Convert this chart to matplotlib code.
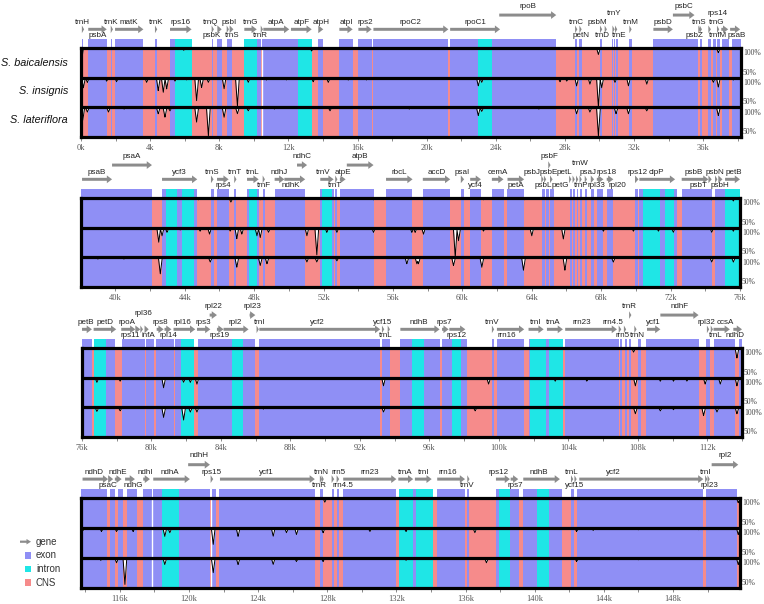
import numpy as np
import matplotlib
matplotlib.use("Agg")
import matplotlib.pyplot as plt
from matplotlib.patches import FancyArrow, Rectangle
from matplotlib.transforms import blended_transform_factory

EXON_C = "#8f8ff5"
INTRON_C = "#1fe6e6"
CNS_C = "#f68b8b"
GENE_C = "#8c8c8c"

SPECIES = ["S. baicalensis", "S. insignis", "S. lateriflora"]
PANEL_RANGES = [(0.0, 38.19), (38.02, 76.0), (76.0, 114.0), (113.75, 151.88)]
LEGEND_LABELS = ["gene", "exon", "intron", "CNS"]

# genes: (name, start kb, end kb, arrow level, label position, label x)
GENES_1 = [
    ("trnH", 0.05, 0.12, 0, "a", None), ("psbA", 0.42, 1.49, 0, "b", None),
    ("trnK", 1.72, 1.80, 0, "a", None), ("matK", 1.97, 3.61, 0, "a", None),
    ("trnK", 4.28, 4.38, 0, "a", None), ("rps16", 5.15, 6.40, 0, "a", None),
    ("trnQ", 7.56, 7.66, 0, "a", 7.5), ("psbK", 7.89, 8.14, 0, "b", 7.55),
    ("psbI", 8.43, 8.55, 0, "a", 8.55), ("trnS", 8.60, 8.82, 0, "b", 8.75),
    ("trnG", 9.45, 10.17, 0, "a", None), ("trnR", 10.40, 10.50, 0, "b", 10.35),
    ("atpA", 10.55, 12.05, 0, "a", None), ("atpF", 12.15, 13.35, 0, "a", None),
    ("atpH", 13.73, 14.02, 0, "a", None), ("atpI", 14.95, 15.72, 0, "a", None),
    ("rps2", 16.05, 16.82, 0, "a", None), ("rpoC2", 16.92, 21.26, 0, "a", None),
    ("rpoC1", 21.36, 24.25, 0, "a", None), ("rpoB", 24.20, 27.50, 1, "a", None),
    ("trnC", 28.59, 28.68, 0, "a", None), ("petN", 28.84, 28.97, 0, "b", None),
    ("psbM", 30.03, 30.16, 0, "a", 29.9), ("trnD", 30.30, 30.40, 0, "b", 30.18),
    ("trnY", 30.75, 30.85, 0, "h", 30.85), ("trnE", 30.90, 31.00, 0, "b", 31.12),
    ("trnM", 31.73, 31.86, 0, "a", None), ("psbD", 33.12, 34.25, 0, "a", None),
    ("psbC", 34.25, 35.50, 1, "a", None), ("psbZ", 35.72, 35.80, 0, "b", 35.5),
    ("trnS", 35.80, 35.90, 0, "a", 35.78), ("trnG", 36.30, 36.45, 0, "a", 36.8),
    ("trnfM", 36.80, 36.90, 0, "b", 36.85), ("rps14", 37.05, 37.45, 0, "h", 36.85),
    ("psaB", 37.56, 38.14, 0, "b", 37.94),
]
GENES_2 = [
    ("psaB", 38.08, 39.81, 0, "a", None), ("psaA", 39.81, 42.11, 1, "a", None),
    ("ycf3", 42.69, 44.72, 0, "a", None), ("trnS", 45.51, 45.66, 0, "a", None),
    ("rps4", 45.86, 46.53, 0, "b", None), ("trnT", 46.85, 46.97, 0, "a", None),
    ("trnL", 47.59, 48.26, 0, "a", None), ("trnF", 48.49, 48.61, 0, "b", None),
    ("ndhJ", 49.18, 49.74, 0, "a", None), ("ndhK", 49.74, 50.94, 0, "b", 50.1),
    ("ndhC", 50.47, 51.05, 1, "a", None), ("trnV", 51.81, 52.58, 0, "a", 51.95),
    ("trnT", 52.67, 52.77, 0, "b", 52.67), ("atpE", 52.94, 53.27, 0, "a", None),
    ("atpB", 53.34, 54.88, 1, "a", None), ("rbcL", 55.60, 57.13, 0, "a", None),
    ("accD", 57.72, 59.30, 0, "a", None), ("psaI", 59.91, 60.10, 0, "a", None),
    ("ycf4", 60.45, 61.07, 0, "b", None), ("cemA", 61.70, 62.37, 0, "a", None),
    ("petA", 62.60, 63.56, 0, "b", None), ("psbJ", 64.55, 64.68, 0, "a", 64.0),
    ("psbL", 64.70, 64.80, 0, "b", 64.67), ("psbF", 64.95, 65.02, 1, "a", 65.0),
    ("psbE", 65.05, 65.20, 0, "a", 65.0), ("petL", 66.15, 66.25, 0, "a", 65.9),
    ("petG", 66.35, 66.45, 0, "b", 65.62), ("trnW", 66.55, 66.65, 0, "h", 66.78),
    ("trnP", 66.75, 66.85, 0, "b", 66.85), ("psaJ", 67.05, 67.17, 0, "a", 67.22),
    ("rpl33", 67.40, 67.59, 0, "b", 67.72), ("rps18", 67.75, 68.13, 0, "a", 68.32),
    ("rpl20", 68.32, 68.70, 0, "b", 68.95), ("rps12", 69.95, 70.15, 0, "a", 70.1),
    ("clpP", 70.20, 72.26, 0, "a", 71.2), ("psbB", 72.64, 74.18, 0, "a", 73.31),
    ("psbT", 74.18, 74.37, 0, "b", 73.6), ("psbN", 74.56, 74.70, 0, "a", 74.56),
    ("psbH", 74.75, 74.99, 0, "b", 74.85), ("petB", 75.14, 76.00, 0, "a", 75.62),
]
GENES_3 = [
    ("petB", 76.00, 76.57, 0, "a", 76.19), ("petD", 76.67, 77.97, 0, "a", None),
    ("rpoA", 78.26, 79.07, 0, "a", 78.59), ("rps11", 79.07, 79.36, 0, "b", 78.8),
    ("rpl36", 79.36, 79.51, 0, "h", 79.51), ("infA", 79.60, 79.84, 0, "b", 79.82),
    ("rps8", 80.30, 80.70, 0, "a", 80.51), ("rpl14", 80.75, 81.15, 0, "b", 80.95),
    ("rpl16", 81.27, 82.52, 0, "a", 81.8), ("rps3", 82.62, 83.39, 0, "a", 82.96),
    ("rpl22", 83.35, 83.77, 1, "a", None), ("rps19", 83.77, 84.15, 0, "b", 83.92),
    ("rpl2", 84.15, 85.59, 0, "a", 84.82), ("rpl23", 85.65, 85.98, 1, "a", None),
    ("trnI", 86.05, 86.15, 0, "a", 86.23), ("ycf2", 86.21, 93.17, 0, "a", 89.53),
    ("ycf15", 93.27, 93.40, 0, "a", 93.3), ("trnL", 93.60, 93.70, 0, "b", 93.5),
    ("ndhB", 94.33, 96.59, 0, "a", 95.38), ("rps7", 96.73, 97.11, 0, "a", 96.88),
    ("rps12", 97.15, 98.07, 0, "b", 97.59), ("trnV", 99.60, 99.70, 0, "a", 99.6),
    ("rrn16", 99.89, 101.46, 0, "b", 100.47), ("trnI", 101.71, 102.58, 0, "a", 102.1),
    ("trnA", 102.77, 103.69, 0, "a", 103.15), ("rrn23", 103.82, 106.80, 0, "a", 104.78),
    ("rrn4.5", 106.90, 107.05, 0, "a", 106.55), ("rrn5", 107.20, 107.30, 0, "b", 107.15),
    ("trnR", 107.50, 107.60, 1, "a", 107.53), ("trnN", 107.80, 107.90, 0, "b", 108.0),
    ("ycf1", 108.53, 109.30, 0, "a", 108.91), ("ndhF", 109.30, 111.50, 1, "a", None),
    ("rpl32", 111.98, 112.08, 0, "a", 111.98), ("trnL", 112.20, 112.30, 0, "b", 112.46),
    ("ccsA", 112.36, 113.30, 0, "a", 113.04), ("ndhD", 113.50, 114.00, 0, "b", 113.61),
]
GENES_4 = [
    ("ndhD", 113.84, 115.32, 0, "a", 114.51), ("psaC", 115.32, 115.61, 0, "b", 115.32),
    ("ndhE", 115.71, 116.10, 0, "a", 115.90), ("ndhG", 116.30, 116.87, 0, "b", 116.77),
    ("ndhI", 117.35, 117.74, 0, "a", 117.45), ("ndhA", 117.93, 120.05, 0, "a", 118.89),
    ("ndhH", 119.95, 121.21, 1, "a", None), ("rps15", 121.25, 121.40, 0, "a", 121.31),
    ("ycf1", 121.79, 127.28, 0, "a", 124.49), ("trnR", 127.57, 127.65, 0, "b", 127.57),
    ("trnN", 127.67, 127.75, 0, "a", 127.67), ("rrn5", 128.25, 128.40, 0, "a", 128.63),
    ("rrn4.5", 128.54, 128.69, 0, "b", 128.92), ("rrn23", 128.92, 132.00, 0, "a", 130.47),
    ("trnA", 132.11, 132.97, 0, "a", 132.49), ("trnI", 133.07, 134.04, 0, "a", 133.55),
    ("rrn16", 134.36, 135.97, 0, "a", 135.0), ("trnV", 136.10, 136.21, 0, "b", 136.1),
    ("rps12", 137.76, 138.57, 0, "a", 137.89), ("rps7", 138.61, 139.05, 0, "b", 138.86),
    ("ndhB", 139.34, 141.46, 0, "a", 140.21), ("trnL", 142.10, 142.20, 0, "a", 142.14),
    ("ycf15", 142.30, 142.40, 0, "b", 142.33), ("ycf2", 142.58, 149.76, 0, "a", 144.55),
    ("trnI", 149.86, 149.96, 0, "a", 149.91), ("rpl23", 150.00, 150.10, 0, "b", 150.14),
    ("rpl2", 150.24, 151.78, 1, "a", 151.0),
]

EXON_1 = [(0.05, 0.13), (0.42, 1.49), (1.72, 1.80), (1.97, 3.61), (4.28, 4.38),
          (5.15, 5.44), (7.56, 7.66), (7.89, 8.14), (8.43, 8.60), (8.65, 8.75),
          (10.17, 10.43), (10.50, 12.58), (13.73, 14.02), (14.95, 15.72),
          (16.05, 16.82), (16.92, 21.26), (21.36, 22.99), (23.76, 27.49),
          (28.59, 28.68), (28.84, 28.97), (30.03, 30.16), (30.70, 30.76),
          (30.82, 30.88), (30.95, 31.05), (31.73, 31.86), (33.12, 35.72),
          (35.80, 35.96), (36.26, 36.44), (36.59, 36.75), (36.83, 36.98),
          (37.08, 37.47), (37.66, 38.19)]
INTRON_1 = [(5.44, 6.40), (9.45, 10.17), (12.58, 13.35), (22.99, 23.76)]
EXON_2 = [(38.02, 42.11), (42.69, 42.94), (43.55, 43.84), (44.55, 44.70),
          (45.51, 45.66), (45.86, 46.53), (46.85, 46.97), (47.59, 47.68),
          (48.16, 48.26), (48.49, 48.61), (49.18, 50.94), (51.81, 51.91),
          (52.48, 52.58), (52.67, 52.77), (52.96, 54.88), (55.60, 57.09),
          (57.72, 59.30), (59.91, 60.10), (60.45, 61.07), (61.70, 62.37),
          (62.60, 63.56), (64.58, 64.75), (64.82, 65.00), (65.05, 65.29),
          (66.21, 66.30), (66.40, 66.48), (66.59, 66.67), (66.79, 66.88),
          (67.07, 67.17), (67.40, 67.59), (67.75, 68.13), (68.32, 68.70),
          (69.95, 70.15), (70.20, 70.43), (71.39, 71.68), (72.20, 72.35),
          (72.64, 74.37), (74.56, 75.14)]
INTRON_2 = [(42.94, 43.55), (43.84, 44.55), (47.68, 48.16), (51.91, 52.48),
            (70.43, 71.39), (71.68, 72.20), (75.14, 76.00)]
EXON_3 = [(76.00, 76.57), (76.67, 76.71), (77.40, 77.92), (78.30, 79.64),
          (79.70, 80.12), (80.28, 81.27), (81.37, 81.70), (82.66, 84.64),
          (85.27, 85.98), (86.17, 93.13), (93.27, 93.75), (94.33, 95.00),
          (95.71, 96.59), (96.73, 97.30), (97.83, 98.14), (99.60, 99.73),
          (99.89, 101.46), (101.71, 101.80), (102.70, 102.90), (103.82, 106.90),
          (106.97, 107.10), (107.28, 107.37), (107.50, 107.60), (108.04, 108.18),
          (108.49, 111.50), (111.94, 112.13), (112.36, 113.61), (113.80, 114.00)]
INTRON_3 = [(76.71, 77.40), (81.70, 82.46), (84.64, 85.27), (95.00, 95.71),
            (97.30, 97.83), (101.80, 102.70), (102.90, 103.69)]
EXON_4 = [(113.75, 115.27), (115.42, 115.71), (115.90, 116.19), (116.44, 116.97),
          (117.31, 117.83), (117.89, 118.41), (119.43, 121.21), (121.31, 121.56),
          (121.75, 127.28), (127.57, 127.73), (128.25, 128.40), (128.54, 128.69),
          (128.92, 132.00), (132.97, 133.13), (134.36, 135.97), (136.10, 136.20),
          (137.76, 137.95), (138.57, 139.10), (139.34, 140.15), (140.85, 141.56),
          (142.08, 142.27), (142.43, 149.76), (149.91, 151.72)]
INTRON_4 = [(118.41, 119.43), (132.17, 132.97), (133.13, 134.10), (137.95, 138.57),
            (140.15, 140.85)]
GAPS_1 = [10.47]
GAPS_2 = []
GAPS_3 = []
GAPS_4 = [117.86, 121.26]

# identity dips: (position kb, % identity)
ID_P1_BAI = [(0.03, 78), (5.95, 96), (13.35, 95), (29.94, 89), (36.88, 92)]
ID_P1_INS = [(0.14, 83), (0.37, 92), (1.49, 94), (2.06, 93), (3.03, 97), (3.80, 92),
             (4.47, 78), (4.76, 75), (4.96, 81), (5.44, 94), (6.12, 96), (6.69, 61),
             (6.98, 83), (7.37, 92), (8.28, 81), (9.05, 51), (9.68, 92), (10.74, 96),
             (11.90, 96), (13.44, 93), (14.31, 92), (15.47, 96), (16.53, 96),
             (18.23, 97), (18.58, 97), (19.32, 97), (20.40, 97), (22.99, 86),
             (23.19, 92), (25.79, 97), (27.72, 93), (28.11, 94), (28.68, 86),
             (29.45, 89), (29.94, 50), (30.13, 83), (30.90, 92), (31.68, 86),
             (32.74, 89), (34.66, 97), (36.59, 92), (36.88, 84), (37.75, 96)]
ID_P1_LAT = [(0.10, 78), (0.37, 92), (1.59, 92), (2.50, 97), (4.47, 89), (4.86, 83),
             (5.15, 94), (6.69, 75), (7.37, 51), (8.28, 83), (9.05, 89), (9.68, 94),
             (11.20, 97), (14.41, 94), (16.80, 97), (19.00, 97), (22.99, 86),
             (23.19, 93), (26.50, 97), (28.68, 89), (29.45, 92), (29.94, 51),
             (30.96, 89), (31.68, 89), (32.74, 94), (36.88, 86)]
ID_P2_BAI = [(44.80, 97), (46.66, 93), (48.35, 97), (54.88, 97), (61.22, 97),
             (63.60, 97), (74.37, 97), (75.62, 95)]
ID_P2_INS = [(38.80, 97), (39.40, 97), (40.20, 97), (41.00, 97), (42.50, 75),
             (42.69, 86), (42.98, 92), (43.74, 96), (44.89, 94), (45.43, 89),
             (46.62, 94), (47.00, 81), (47.29, 89), (48.16, 86), (48.35, 83),
             (48.83, 92), (51.04, 86), (51.61, 53), (52.19, 92), (52.77, 92),
             (54.88, 92), (57.09, 92), (57.28, 92), (57.76, 89), (59.59, 50),
             (59.78, 78), (61.22, 94), (64.00, 86), (65.82, 81), (68.13, 94),
             (69.86, 94), (71.30, 94), (72.16, 92), (74.37, 92), (75.62, 94)]
ID_P2_LAT = [(39.00, 97), (40.50, 97), (42.59, 72), (45.47, 92), (47.00, 83),
             (48.35, 86), (48.74, 89), (51.04, 92), (51.61, 92), (52.77, 94),
             (56.80, 89), (57.38, 89), (57.47, 89), (59.49, 86), (61.12, 83),
             (63.52, 78), (65.91, 78), (68.70, 92), (74.37, 92), (75.62, 92)]
ID_P3_BAI = [(80.70, 98), (83.10, 98), (84.15, 98), (107.76, 93), (111.12, 97),
             (113.71, 83)]
ID_P3_INS = [(76.86, 92), (78.20, 94), (79.50, 97), (80.70, 83), (81.85, 92),
             (82.24, 92), (82.62, 89), (84.20, 97), (86.45, 97), (88.60, 97),
             (91.20, 97), (93.36, 86), (99.41, 89), (103.25, 94), (105.07, 94),
             (107.86, 86), (109.30, 94), (110.06, 94), (110.83, 94), (111.88, 89),
             (112.75, 89), (113.71, 86)]
ID_P3_LAT = [(76.86, 93), (78.20, 94), (80.70, 83), (81.85, 78), (82.24, 92),
             (82.62, 92), (86.45, 97), (93.36, 92), (98.64, 94), (107.86, 89),
             (109.30, 94), (110.06, 96), (111.79, 86), (112.56, 92), (113.71, 89)]
ID_P4_BAI = [(127.86, 93), (151.78, 92)]
ID_P4_INS = [(113.88, 96), (114.94, 94), (115.81, 94), (116.77, 94), (118.60, 86),
             (118.89, 92), (121.40, 72), (122.84, 86), (124.87, 86), (125.64, 92),
             (126.22, 89), (127.76, 92), (130.47, 94), (132.56, 94), (136.54, 92),
             (142.43, 94), (143.39, 96), (146.00, 97), (149.50, 97), (151.78, 89)]
ID_P4_LAT = [(114.90, 96), (115.81, 92), (116.29, 55), (118.60, 89), (121.40, 75),
             (122.84, 89), (124.87, 89), (126.22, 94), (127.76, 94), (132.56, 96),
             (137.21, 92), (142.43, 94), (146.00, 97), (151.78, 89)]

PANELS = [
    (GENES_1, EXON_1, INTRON_1, GAPS_1, [ID_P1_BAI, ID_P1_INS, ID_P1_LAT]),
    (GENES_2, EXON_2, INTRON_2, GAPS_2, [ID_P2_BAI, ID_P2_INS, ID_P2_LAT]),
    (GENES_3, EXON_3, INTRON_3, GAPS_3, [ID_P3_BAI, ID_P3_INS, ID_P3_LAT]),
    (GENES_4, EXON_4, INTRON_4, GAPS_4, [ID_P4_BAI, ID_P4_INS, ID_P4_LAT]),
]
# axes boxes in pixels: left, right, top, bottom
BOXES = [(81, 741, 48, 137), (81, 740, 198, 287), (82, 742, 348, 437), (81, 740, 498, 588)]

W, H = 764, 604
fig = plt.figure(figsize=(W / 100, H / 100), dpi=100)

STRIPE_TOP = 3.30
Y_ARROW = {0: 3.63, 1: 4.11}
Y_LABEL = {("a", 0): 3.86, ("b", 0): 3.42, ("h", 0): 4.17, ("a", 1): 4.41}
SERIF = ["Liberation Serif", "DejaVu Serif"]
SANS = ["Liberation Sans", "DejaVu Sans"]


def identity_curve(xs, dips):
    y = np.full_like(xs, 100.0)
    for p, v in dips:
        w = 0.11
        y = np.minimum(y, v + (100.0 - v) * np.abs(xs - p) / w)
    return y


for (start, end), (genes, exons, introns, gaps, ids), (l, r, t, b) in zip(
        PANEL_RANGES, PANELS, BOXES):
    ax = fig.add_axes([l / W, 1 - b / H, (r - l) / W, (b - t) / H])
    ax.set_xlim(start, end)
    ax.set_ylim(0, 3)
    ax.set_facecolor(CNS_C)
    # feature stripes
    for (s, e) in exons:
        ax.bar(s, STRIPE_TOP, width=e - s, bottom=0, align="edge", color=EXON_C,
               lw=0, clip_on=False, zorder=1)
    for (s, e) in introns:
        ax.bar(s, STRIPE_TOP, width=e - s, bottom=0, align="edge", color=INTRON_C,
               lw=0, clip_on=False, zorder=1)
    for g in gaps:
        ax.axvline(g, color="white", lw=1.0, zorder=1.5)
    # identity curves
    xs = np.linspace(start, end, 6000)
    for k, dips in enumerate(ids):
        base = 2 - k
        yv = base + (identity_curve(xs, dips) - 50.0) / 50.0
        ax.fill_between(xs, yv, base + 1, color="white", lw=0, zorder=2)
        ax.plot(xs, yv, color="black", lw=0.7, zorder=3)
    for yy in (1, 2):
        ax.axhline(yy, color="black", lw=2.3, zorder=4)
    for sp in ax.spines.values():
        sp.set_linewidth(2.3)
        sp.set_zorder(5)
    # percentage labels
    tr = blended_transform_factory(ax.transAxes, ax.transData)
    for k in range(3):
        base = 2 - k
        ax.text(1.003, base + 0.96, "100%", transform=tr, ha="left", va="top",
                fontsize=5.5, family=SERIF, color="#444444")
        ax.text(1.003, base + 0.03, "50%", transform=tr, ha="left", va="bottom",
                fontsize=5.5, family=SERIF, color="#444444")
    # ticks
    first = np.ceil(start / 4 - 1e-9) * 4
    major = np.arange(first, end + 0.01, 4)
    minor = np.arange(np.ceil(start / 2 - 1e-9) * 2, end + 0.01, 2)
    ax.set_xticks(major)
    ax.set_xticklabels([f"{int(m)}k" for m in major], family=SERIF, fontsize=6,
                       color="#555555")
    ax.set_xticks(minor, minor=True)
    ax.tick_params(axis="x", which="both", length=3, width=0.6, color="#777777",
                   pad=2)
    ax.set_yticks([])
    # genes
    for name, s, e, lev, pos, lx in genes:
        y = Y_ARROW[lev]
        L = max(e - s, 0.13)
        hl = min(0.30, L)
        ax.add_patch(FancyArrow(s, y, L, 0, width=0.10, head_width=0.26,
                                head_length=hl, length_includes_head=True,
                                color=GENE_C, lw=0, clip_on=False, zorder=3))
        x = lx if lx is not None else (s + e) / 2
        ax.text(x, Y_LABEL[(pos, lev)], name, ha="center", va="center",
                fontsize=5.8, family=SANS, color="#222222", clip_on=False,
                zorder=6)

# overlay in pixel coordinates for species names and legend
ov = fig.add_axes([0, 0, 1, 1])
ov.set_xlim(0, W)
ov.set_ylim(H, 0)
ov.axis("off")
for name, yy in zip(SPECIES, [63.5, 91, 120]):
    ov.text(68, yy, name, ha="right", va="center", fontsize=7.8, style="italic",
            family=SANS, color="#111111")
ov.add_patch(FancyArrow(20, 541.7, 11, 0, width=2.2, head_width=5.5,
                        head_length=4.5, length_includes_head=True, color=GENE_C,
                        lw=0))
for lab, col, yy in zip(LEGEND_LABELS[1:], [EXON_C, INTRON_C, CNS_C],
                        [555.5, 569, 582.5]):
    ov.add_patch(Rectangle((24.5, yy - 3.2), 6.5, 6.5, color=col, lw=0))
for lab, yy in zip(LEGEND_LABELS, [541.7, 555.5, 569, 582.5]):
    ov.text(36, yy, lab, ha="left", va="center", fontsize=7, family=SANS,
            color="#333333")

fig.savefig("out.png", dpi=100)
